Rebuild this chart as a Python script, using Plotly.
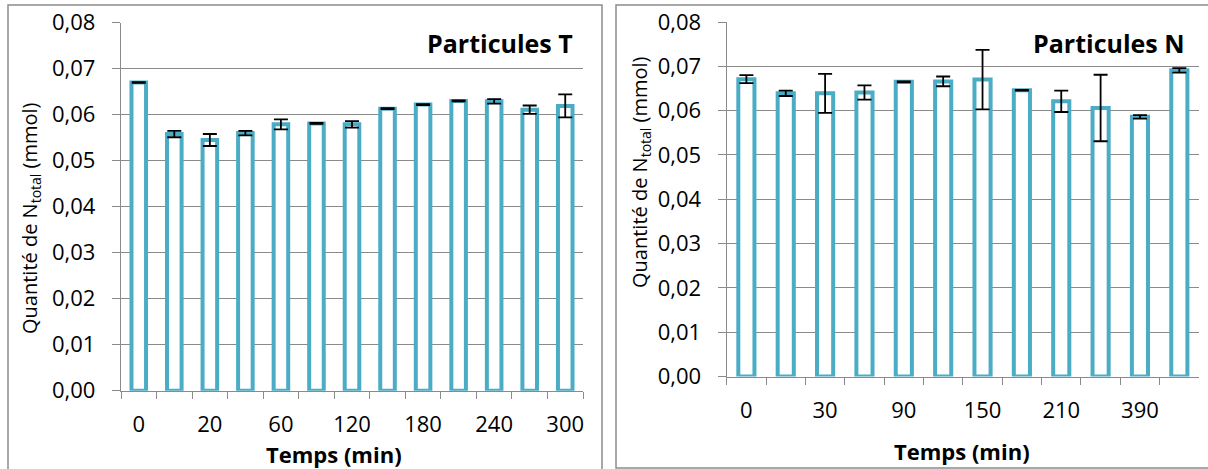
import plotly.graph_objects as go

# ---- data ----
left_times = ["0", "10", "20", "40", "60", "90", "120", "150", "180", "210", "240", "270", "300"]
left_vals = [0.0670, 0.0558, 0.0545, 0.0560, 0.0579, 0.0581, 0.0579, 0.0613, 0.0622, 0.0630, 0.0629, 0.0611, 0.0619]
left_err = [0.0001, 0.0007, 0.0013, 0.0005, 0.0011, 0.0001, 0.0007, 0.0001, 0.0001, 0.0001, 0.0005, 0.0009, 0.0025]

right_times = ["0", "15", "30", "60", "90", "120", "150", "180", "210", "300", "390", "1440"]
right_vals = [0.0671, 0.0639, 0.0639, 0.0641, 0.0665, 0.0666, 0.0670, 0.0646, 0.0621, 0.0606, 0.0586, 0.0691]
right_err = [0.0009, 0.0006, 0.0044, 0.0016, 0.0001, 0.0011, 0.0067, 0.0001, 0.0024, 0.0075, 0.0004, 0.0005]

y_ticks = [0, 0.01, 0.02, 0.03, 0.04, 0.05, 0.06, 0.07, 0.08]

W, H = 1208, 469
FONT = "Open Sans"
GRID = "#8a8a8a"
TEAL = "#4BACC6"

def px_x(x):
    return x / W

def px_y(y):
    return 1 - y / H

fig = go.Figure()

for times, vals, err, xa, ya in [
    (left_times, left_vals, left_err, "x", "y"),
    (right_times, right_vals, right_err, "x2", "y2"),
]:
    fig.add_trace(go.Bar(
        x=times, y=vals, xaxis=xa, yaxis=ya,
        marker=dict(color="white", line=dict(color=TEAL, width=4)),
        error_y=dict(type="data", array=err, visible=True,
                     color="black", thickness=1.8, width=7),
        showlegend=False,
    ))

def xaxis_cfg(times, dom, standoff):
    return dict(
        domain=dom, type="category", range=[-0.5, len(times) - 0.5],
        tickmode="array", tickvals=times,
        ticktext=[t if i % 2 == 0 else " " for i, t in enumerate(times)],
        tickangle=0,
        tickson="boundaries", ticks="outside", ticklen=7, tickcolor=GRID, tickwidth=1.3,
        showline=True, linecolor=GRID, linewidth=1.3, showgrid=False,
        tickfont=dict(family=FONT, size=22, color="black"),
        ticklabelstandoff=standoff, layer="below traces", fixedrange=True,
    )

def yaxis_cfg(dom, anchor):
    return dict(
        domain=dom, anchor=anchor, range=[0, 0.08],
        tickmode="array", tickvals=y_ticks, tickformat=".2f",
        ticks="outside", ticklen=8, tickcolor=GRID, tickwidth=1.3,
        showline=True, linecolor=GRID, linewidth=1.3,
        showgrid=True, gridcolor=GRID, gridwidth=1.3, zeroline=False,
        tickfont=dict(family=FONT, size=22, color="black"),
        ticklabelstandoff=12, layer="below traces", fixedrange=True,
    )

fig.update_layout(
    width=W, height=H,
    margin=dict(l=0, r=0, t=0, b=0, autoexpand=False),
    paper_bgcolor="white", plot_bgcolor="white",
    separators=", ",
    bargap=0.59,
    xaxis=dict(xaxis_cfg(left_times, [px_x(121), px_x(583)], 14), anchor="y"),
    yaxis=yaxis_cfg([px_y(390.7), px_y(22.7)], "x"),
    xaxis2=dict(xaxis_cfg(right_times, [px_x(726.7), px_x(1199)], 14), anchor="y2"),
    yaxis2=yaxis_cfg([px_y(376.6), px_y(22.0)], "x2"),
)

ytitle = "Quantité de N<sub>total</sub> (mmol)"
annos = [
    dict(text="<b>Particules T</b>", x=px_x(575), y=px_y(43), xanchor="right", yanchor="middle",
         font=dict(family=FONT, size=25, color="black")),
    dict(text="<b>Particules N</b>", x=px_x(1187), y=px_y(43), xanchor="right", yanchor="middle",
         font=dict(family=FONT, size=25, color="black")),
    dict(text="<b>Temps (min)</b>", x=px_x(334), y=px_y(454), xanchor="center", yanchor="middle",
         font=dict(family=FONT, size=22, color="black")),
    dict(text="<b>Temps (min)</b>", x=px_x(962), y=px_y(451), xanchor="center", yanchor="middle",
         font=dict(family=FONT, size=22, color="black")),
    dict(text=ytitle, x=px_x(31), y=px_y(218), xanchor="center", yanchor="middle", textangle=-90,
         font=dict(family=FONT, size=20, color="black")),
    dict(text=ytitle, x=px_x(640), y=px_y(172), xanchor="center", yanchor="middle", textangle=-90,
         font=dict(family=FONT, size=20, color="black")),
]
for a in annos:
    a.update(xref="paper", yref="paper", showarrow=False)
fig.update_layout(annotations=annos)

fig.update_layout(shapes=[
    dict(type="rect", xref="paper", yref="paper",
         x0=px_x(8), x1=px_x(602), y0=-0.05, y1=px_y(5),
         line=dict(color="#8c8c8c", width=1.5), layer="below"),
    dict(type="rect", xref="paper", yref="paper",
         x0=px_x(616), x1=1.02, y0=px_y(468), y1=px_y(5),
         line=dict(color="#8c8c8c", width=1.5), layer="below"),
])

fig.write_html("out.html", config={"displayModeBar": False},
               post_script="document.body.style.margin='0';document.body.style.overflow='hidden';")
